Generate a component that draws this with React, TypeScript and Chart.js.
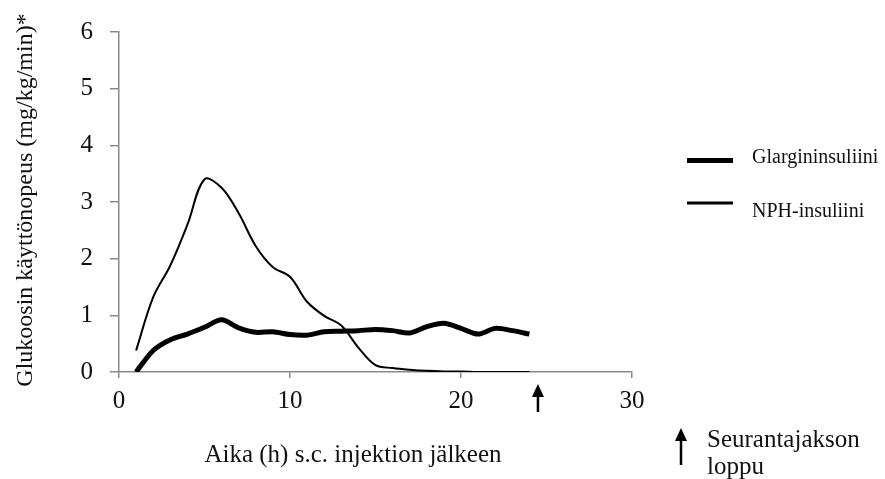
import React, { useEffect, useRef } from "react";
import { Chart, registerables } from "chart.js";

Chart.register(...registerables);

const HOURS = [1, 2, 3, 4, 5, 6, 7, 8, 9, 10, 11, 12, 13, 14, 15, 16, 17, 18, 19, 20, 21, 22, 23, 24];
const GLARGINE = [0.0, 0.38, 0.57, 0.67, 0.79, 0.92, 0.78, 0.7, 0.71, 0.66, 0.65, 0.71, 0.72, 0.73, 0.75, 0.73, 0.69, 0.8, 0.86, 0.77, 0.67, 0.77, 0.73, 0.67];
const NPH = [0.38, 1.32, 1.88, 2.6, 3.4, 3.25, 2.8, 2.22, 1.85, 1.68, 1.24, 0.99, 0.82, 0.43, 0.12, 0.07, 0.04, 0.02, 0.01, 0.01, 0.0, 0.0, 0.0, 0.0];
const SERIES_NAMES = ["Glargininsuliini", "NPH-insuliini"];
const X_TICKS = [0, 10, 20, 30];
const Y_TICKS = [0, 1, 2, 3, 4, 5, 6];
const END_OF_FOLLOWUP = 24.5;
const X_TITLE = "Aika (h) s.c. injektion jälkeen";
const Y_TITLE = "Glukoosin käyttönopeus (mg/kg/min)*";
const ARROW_LABEL = ["Seurantajakson", "loppu"];

const FONT = '"Liberation Serif", "Times New Roman", "DejaVu Serif", serif';
const AXIS_COLOR = "#8a8a8a";

function drawArrow(ctx: CanvasRenderingContext2D, x: number, top: number, bottom: number) {
  ctx.save();
  ctx.fillStyle = "#000";
  ctx.strokeStyle = "#000";
  ctx.lineWidth = 2.5;
  ctx.beginPath();
  ctx.moveTo(x, top + 10);
  ctx.lineTo(x, bottom);
  ctx.stroke();
  ctx.beginPath();
  ctx.moveTo(x, top);
  ctx.lineTo(x - 6, top + 13);
  ctx.lineTo(x + 6, top + 13);
  ctx.closePath();
  ctx.fill();
  ctx.restore();
}

const extrasPlugin = {
  id: "extras",
  afterDraw(chart: any) {
    const ctx: CanvasRenderingContext2D = chart.ctx;
    const xs = chart.scales.x;
    ctx.save();
    ctx.fillStyle = "#111";
    // x title
    ctx.font = `25px ${FONT}`;
    ctx.textAlign = "center";
    ctx.textBaseline = "alphabetic";
    ctx.fillText(X_TITLE, 353, 462);
    // y title
    ctx.save();
    ctx.translate(32, 200);
    ctx.rotate(-Math.PI / 2);
    ctx.font = `24px ${FONT}`;
    ctx.textAlign = "center";
    ctx.fillText(Y_TITLE, 0, 0);
    ctx.restore();

    // legend
    const lx0 = 687, lx1 = 733;
    ctx.strokeStyle = "#000";
    ctx.lineWidth = 5;
    ctx.beginPath();
    ctx.moveTo(lx0, 160.5);
    ctx.lineTo(lx1, 160.5);
    ctx.stroke();
    ctx.lineWidth = 3;
    ctx.beginPath();
    ctx.moveTo(lx0, 203);
    ctx.lineTo(lx1, 203);
    ctx.stroke();
    ctx.font = `20px ${FONT}`;
    ctx.textAlign = "left";
    ctx.textBaseline = "middle";
    ctx.fillText(SERIES_NAMES[0], 752, 158);
    ctx.fillText(SERIES_NAMES[1], 752, 212);

    // end of follow-up arrow under axis
    const ax = xs.getPixelForValue(END_OF_FOLLOWUP);
    drawArrow(ctx, ax, 384, 412);

    // legend arrow
    drawArrow(ctx, 681, 428, 465);
    ctx.font = `25px ${FONT}`;
    ctx.textAlign = "left";
    ctx.textBaseline = "middle";
    ctx.fillText(ARROW_LABEL[0], 707, 440);
    ctx.fillText(ARROW_LABEL[1], 707, 467);
    ctx.restore();
  },
};

export default function App() {
  const ref = useRef<HTMLCanvasElement>(null);
  useEffect(() => {
    const canvas = ref.current;
    if (!canvas) return;
    const chart = new Chart(canvas, {
      type: "line",
      data: {
        datasets: [
          {
            label: SERIES_NAMES[0],
            data: HOURS.map((h, i) => ({ x: h, y: GLARGINE[i] })),
            borderColor: "#000",
            borderWidth: 5,
            pointRadius: 0,
            tension: 0.3,
            fill: false,
          },
          {
            label: SERIES_NAMES[1],
            data: HOURS.map((h, i) => ({ x: h, y: NPH[i] })),
            borderColor: "#000",
            borderWidth: 2,
            pointRadius: 0,
            tension: 0.35,
            fill: false,
          },
        ],
      },
      options: {
        animation: false,
        responsive: false,
        devicePixelRatio: 1,
        layout: { padding: { left: 0, top: 22, right: 253, bottom: 0 } },
        plugins: { legend: { display: false }, tooltip: { enabled: false }, title: { display: false } },
        scales: {
          x: {
            type: "linear",
            min: 0,
            max: 30,
            afterBuildTicks: (s: any) => {
              s.ticks = X_TICKS.map((v) => ({ value: v }));
            },
            afterFit: (s: any) => {
              s.height = 107;
            },
            ticks: { color: "#111", font: { family: FONT, size: 25 }, padding: 8, maxRotation: 0 },
            grid: { drawOnChartArea: false, drawTicks: true, tickLength: 6, color: AXIS_COLOR, lineWidth: 1.5 },
            border: { color: AXIS_COLOR, width: 1.5 },
          },
          y: {
            type: "linear",
            min: 0,
            max: 6,
            afterBuildTicks: (s: any) => {
              s.ticks = Y_TICKS.map((v) => ({ value: v }));
            },
            afterFit: (s: any) => {
              s.width = 119;
            },
            ticks: { color: "#111", font: { family: FONT, size: 25 }, padding: 17 },
            grid: { drawOnChartArea: false, drawTicks: true, tickLength: 9, color: AXIS_COLOR, lineWidth: 1.5 },
            border: { color: AXIS_COLOR, width: 1.5 },
          },
        },
      },
      plugins: [extrasPlugin],
    });
    return () => chart.destroy();
  }, []);
  return (
    <div style={{ position: "fixed", left: 0, top: 0, width: 885, height: 479, background: "#fff" }}>
      <canvas ref={ref} width={885} height={479} />
    </div>
  );
}
